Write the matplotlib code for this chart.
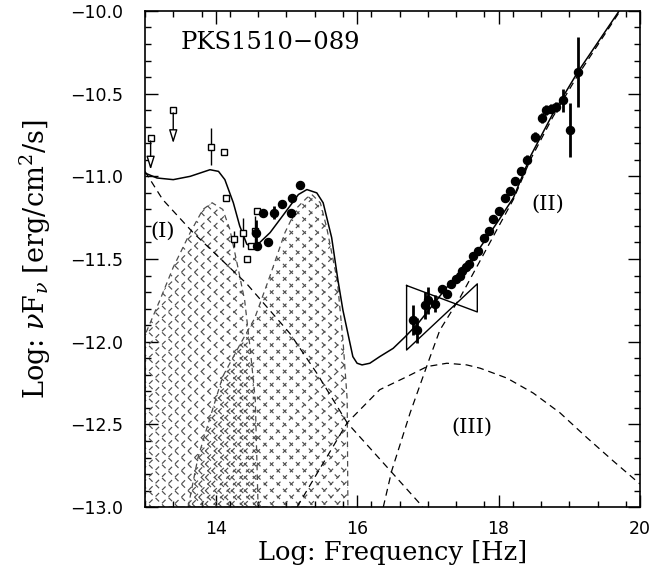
import numpy as np
import matplotlib.pyplot as plt
from matplotlib.patches import Polygon
from matplotlib.collections import LineCollection

plt.rcParams['font.family'] = ['DejaVu Serif']
plt.rcParams['mathtext.fontset'] = 'dejavuserif'
plt.rcParams['lines.scale_dashes'] = False

# --- total model (solid) ---
tot_x = [13.00, 13.17, 13.40, 13.64, 13.78, 13.92, 14.04, 14.13, 14.25, 14.34,
         14.44, 14.53, 14.60, 14.77, 14.91, 15.05, 15.17, 15.29, 15.43, 15.52,
         15.64, 15.73, 15.80, 15.86, 15.94, 16.00, 16.07, 16.18, 16.32, 16.51,
         16.68, 16.86, 17.03, 17.27, 17.50, 17.74, 17.98, 18.21, 18.45, 18.77,
         19.12, 19.69, 19.75]
tot_y = [-10.98, -11.01, -11.02, -11.00, -10.98, -10.96, -10.97, -11.02, -11.16, -11.30,
         -11.41, -11.43, -11.41, -11.34, -11.26, -11.18, -11.11, -11.08, -11.10, -11.16,
         -11.37, -11.63, -11.81, -11.93, -12.09, -12.13, -12.14, -12.13, -12.09, -12.04,
         -11.97, -11.89, -11.80, -11.67, -11.57, -11.43, -11.28, -11.13, -10.88, -10.62,
         -10.37, -10.01, -9.97]

# --- component I (synchrotron) ---
c1_x = [13.00, 13.25, 13.68, 14.44, 15.05, 15.43, 15.86, 16.47, 16.89, 16.96]
c1_y = [-10.97, -11.14, -11.34, -11.65, -11.95, -12.19, -12.49, -12.78, -12.98, -13.02]

# --- component II ---
c2_x = [16.37, 16.49, 16.75, 17.00, 17.17, 17.46, 17.74, 17.98, 18.21, 18.45,
        18.77, 19.12, 19.72]
c2_y = [-13.00, -12.78, -12.43, -12.13, -11.93, -11.73, -11.51, -11.32, -11.14, -10.90,
        -10.64, -10.39, -10.00]

# --- component III ---
c3_x = [15.15, 15.86, 16.32, 16.71, 16.99, 17.27, 17.55, 17.74, 18.12, 18.49,
        18.87, 19.25, 19.62, 20.00]
c3_y = [-13.00, -12.49, -12.29, -12.21, -12.15, -12.13, -12.14, -12.16, -12.22, -12.31,
        -12.43, -12.58, -12.72, -12.86]

# --- hatched thermal bumps ---
bump1_x = [13.00, 13.00, 13.21, 13.40, 13.64, 13.82, 13.95, 14.10, 14.20, 14.30,
           14.41, 14.49, 14.56, 14.60]
bump1_y = [-13.00, -11.96, -11.75, -11.55, -11.34, -11.20, -11.16, -11.20, -11.32, -11.52,
           -11.75, -12.05, -12.35, -13.00]
bump2_x = [13.61, 13.75, 13.92, 14.10, 14.34, 14.55, 14.77, 14.98, 15.15, 15.29,
           15.36, 15.48, 15.57, 15.64, 15.72, 15.80, 15.86, 15.87]
bump2_y = [-13.00, -12.70, -12.46, -12.21, -12.02, -11.86, -11.60, -11.34, -11.19, -11.13,
           -11.11, -11.16, -11.31, -11.46, -11.63, -11.99, -12.35, -13.00]

# --- data: radio/IR (open squares) ---
sq_x = [13.93, 14.12, 14.15, 14.26, 14.39, 14.44, 14.50, 14.56, 14.58]
sq_y = [-10.82, -10.85, -11.13, -11.38, -11.34, -11.50, -11.42, -11.33, -11.21]
sq_err = [0.11, 0.0, 0.0, 0.05, 0.09, 0.0, 0.0, 0.09, 0.0]
# upper limits
ul_x = [13.08, 13.40]
ul_y = [-10.77, -10.60]
ul_end = [-10.96, -10.80]

# --- data: optical/UV (filled) ---
opt_x = [14.57, 14.58, 14.67, 14.74, 14.82, 14.94, 15.07, 15.08, 15.19]
opt_y = [-11.34, -11.42, -11.22, -11.40, -11.22, -11.17, -11.22, -11.13, -11.05]
opt_err = [0.075, 0.0, 0.0, 0.0, 0.04, 0.0, 0.0, 0.0, 0.0]

# --- data: X-ray (filled) ---
xr_x = [16.79, 16.85, 16.96, 17.00, 17.10, 17.20, 17.27, 17.33, 17.40, 17.46,
        17.48, 17.54, 17.58, 17.64, 17.71, 17.79, 17.87, 17.92, 18.01, 18.09,
        18.16, 18.23, 18.32, 18.40, 18.52, 18.62, 18.67, 18.74, 18.81, 18.91,
        19.01, 19.12]
xr_y = [-11.87, -11.93, -11.78, -11.75, -11.77, -11.68, -11.71, -11.65, -11.62, -11.60,
        -11.57, -11.55, -11.53, -11.48, -11.45, -11.37, -11.33, -11.26, -11.21, -11.13,
        -11.09, -11.03, -10.97, -10.90, -10.76, -10.65, -10.60, -10.59, -10.58, -10.54,
        -10.72, -10.37]
xr_err = [0.09, 0.075, 0.08, 0.08, 0.05, 0.0, 0.0, 0.0, 0.0, 0.0,
          0.0, 0.0, 0.0, 0.0, 0.0, 0.0, 0.0, 0.0, 0.0, 0.0,
          0.0, 0.0, 0.0, 0.03, 0.03, 0.03, 0.03, 0.03, 0.03, 0.07,
          0.165, 0.21]

# bow tie (X-ray spectrum)
bow_x = [16.70, 17.70, 17.70, 16.70, 16.70]
bow_y = [-11.66, -11.82, -11.65, -12.05, -11.66]


def hatch_fill(ax, xs, ys, shift):
    # dashed cross-hatch clipped to the bump outline; shift moves the pattern sideways
    poly = Polygon(np.column_stack([xs, ys]), closed=True, fill=False,
                   ec='0.3', lw=0.9, ls=(0, (4, 3)))
    ax.add_patch(poly)
    k = 70.7 / 165.3   # 45 degrees on screen
    step = 0.08
    xx = np.array([12.6, 16.4]) + shift
    segs = []
    for c in np.arange(-14.6, -10.0, step):
        segs.append(np.column_stack([xx, c + k * (xx - 13 - shift)]))
    for c in np.arange(-13.2, -8.4, step):
        segs.append(np.column_stack([xx, c - k * (xx - 13 - shift)]))
    lc = LineCollection(segs, colors='0.3', linewidths=0.85,
                        linestyles=[(0, (3.6, 3.0))])
    ax.add_collection(lc)
    lc.set_clip_path(poly)


fig = plt.figure(figsize=(6.68, 5.75), dpi=100)
ax = fig.add_axes([0.217, 0.118, 0.741, 0.863])

hatch_fill(ax, bump1_x, bump1_y, 0.0)
hatch_fill(ax, bump2_x, bump2_y, 0.06)

dash = (0, (5, 3.5))
ax.plot(c1_x, c1_y, color='k', lw=0.9, ls=dash)
ax.plot(c2_x, c2_y, color='k', lw=0.9, ls=dash)
ax.plot(c3_x, c3_y, color='k', lw=0.9, ls=dash)
ax.plot(tot_x, tot_y, color='k', lw=1.1)
ax.plot(bow_x, bow_y, color='k', lw=1.0)

# squares
ax.errorbar(sq_x, sq_y, yerr=sq_err, fmt='s', ms=5, mfc='white', mec='k',
            mew=1.0, ecolor='k', elinewidth=1.0, capsize=0)
for x, y, e in zip(ul_x, ul_y, ul_end):
    ax.annotate('', xy=(x, e), xytext=(x, y),
                arrowprops=dict(arrowstyle='-|>,head_length=0.8,head_width=0.25',
                                fc='white', ec='k', lw=1.0, shrinkA=2, shrinkB=0))
ax.plot(ul_x, ul_y, 's', ms=5, mfc='white', mec='k', mew=1.0)

ax.errorbar(opt_x, opt_y, yerr=opt_err, fmt='o', ms=5.8, color='k',
            elinewidth=2.0, capsize=0)
ax.errorbar(xr_x, xr_y, yerr=xr_err, fmt='o', ms=5.8, color='k',
            elinewidth=2.0, capsize=0)

ax.set_xlim(13, 20)
ax.set_ylim(-13, -10)
ax.set_xticks([14, 16, 18, 20])
ax.set_xticks(np.arange(13.0, 20.01, 0.4), minor=True)
ax.set_yticks(np.arange(-13.0, -9.99, 0.5))
ax.set_yticks(np.arange(-13.0, -9.99, 0.1), minor=True)
ax.set_yticklabels(['\u2212%.1f' % abs(v) for v in np.arange(-13.0, -9.99, 0.5)])
ax.tick_params(which='both', direction='in', top=True, right=True,
               labelsize=12.5, width=1.0)
ax.tick_params(axis='y', pad=16)
ax.tick_params(axis='x', pad=9)
for lab in ax.get_xticklabels() + ax.get_yticklabels():
    lab.set_fontfamily('DejaVu Sans')
ax.tick_params(which='major', length=9)
ax.tick_params(which='minor', length=4.5)
for s in ax.spines.values():
    s.set_linewidth(1.2)

ax.set_xlabel('Log: Frequency [Hz]', fontsize=18.5, labelpad=2)
ax.set_ylabel(r'Log: $\nu$F$_\nu$ [erg/cm$^2$/s]', fontsize=19.5, labelpad=12)

ax.text(13.5, -10.19, 'PKS1510\u2212089', fontsize=17.5, ha='left', va='center')
ax.text(13.25, -11.33, '(I)', fontsize=15, ha='center', va='center')
ax.text(18.70, -11.17, '(II)', fontsize=15, ha='center', va='center')
ax.text(17.63, -12.52, '(III)', fontsize=15, ha='center', va='center')

fig.savefig('out.png', dpi=100)
